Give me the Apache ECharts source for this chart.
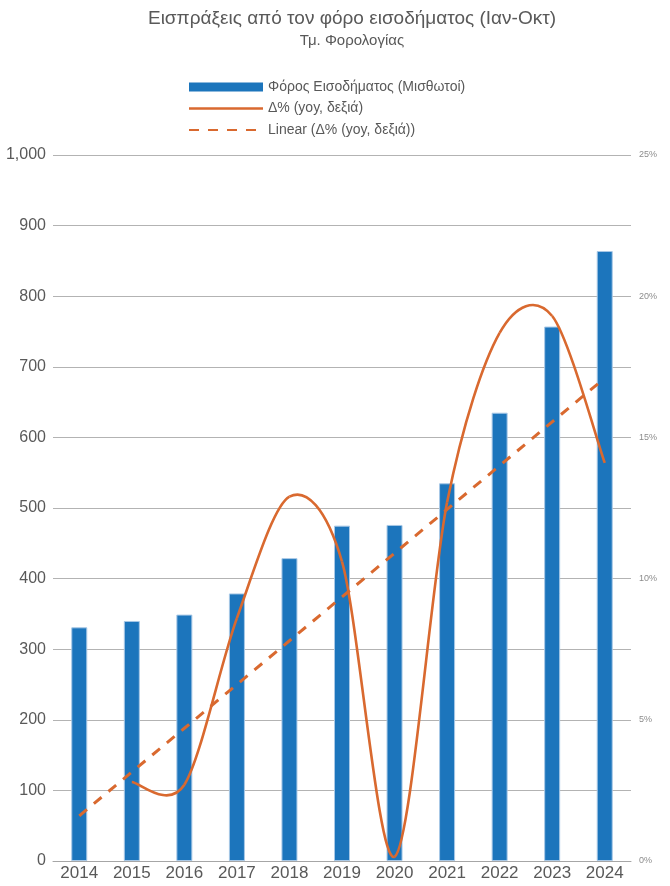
<!DOCTYPE html>
<html>
<head>
<meta charset="utf-8">
<script src="https://cdn.jsdelivr.net/npm/echarts@6/dist/echarts.min.js"></script>
<style>
  html, body { margin: 0; padding: 0; background: #fff; }
  #chart { width: 670px; height: 886px; }
</style>
</head>
<body>
<div id="chart"></div>
<script>
// έτη και τιμές, διαβασμένα από το γράφημα
let years = ['2014', '2015', '2016', '2017', '2018', '2019', '2020', '2021', '2022', '2023', '2024']
let incomeTax = [331, 340, 349, 379, 429, 475, 476, 535, 635, 757, 864]
let yoyPct = [null, 2.8, 2.7, 8.6, 12.9, 10.6, 0.15, 12.7, 18.7, 19.3, 14.1]
let yoyTrend = [1.6, 3.15, 4.7, 6.25, 7.8, 9.35, 10.9, 12.45, 14.0, 15.55, 17.1]

let seriesNames = ['Φόρος Εισοδήματος (Μισθωτοί)', 'Δ% (yoy, δεξιά)', 'Linear (Δ% (yoy, δεξιά))']

let textColor = '#595959'
let gridColor = '#b3b3b3'
let orange = '#d9692f'
let font = 'Liberation Sans'

let myChart = echarts.init(document.getElementById('chart'), null, {renderer: 'canvas'})

// ομαλή καμπύλη τύπου Excel (catmull-rom) πάνω στους άξονες του echarts
function renderSmoothSegment(params, api) {
  let i = params.dataIndex
  if (i < 1 || yoyPct[i - 1] === null || yoyPct[i] === null) {
    return
  }
  let pt = function (k) {
    return api.coord([k, yoyPct[k]])
  }
  let p1 = pt(i - 1)
  let p2 = pt(i)
  let p0 = (i - 2 >= 0 && yoyPct[i - 2] !== null) ? pt(i - 2) : p1
  let p3 = (i + 1 < yoyPct.length && yoyPct[i + 1] !== null) ? pt(i + 1) : p2
  let t = 6.5
  return {
    type: 'bezierCurve',
    shape: {
      x1: p1[0], y1: p1[1],
      x2: p2[0], y2: p2[1],
      cpx1: p1[0] + (p2[0] - p0[0]) / t,
      cpy1: p1[1] + (p2[1] - p0[1]) / t,
      cpx2: p2[0] - (p3[0] - p1[0]) / t,
      cpy2: p2[1] - (p3[1] - p1[1]) / t
    },
    style: {stroke: orange, lineWidth: 2.6, fill: null}
  }
}

let option = {
  animation: false,
  textStyle: {fontFamily: font},
  title: {
    text: 'Εισπράξεις από τον φόρο εισοδήματος (Ιαν-Οκτ)',
    subtext: 'Τμ. Φορολογίας',
    left: 347,
    textAlign: 'center',
    top: 4,
    itemGap: 5,
    textStyle: {fontSize: 19, fontWeight: 'normal', color: textColor, fontFamily: font},
    subtextStyle: {fontSize: 15, color: textColor, fontFamily: font}
  },
  legend: {
    orient: 'vertical',
    left: 183,
    top: 75,
    itemWidth: 74,
    itemHeight: 9,
    itemGap: 7.5,
    textStyle: {fontSize: 14, color: textColor, fontFamily: font},
    data: [
      {name: seriesNames[0], icon: 'rect', itemStyle: {borderWidth: 0}},
      {name: seriesNames[1], icon: 'path://M0,0M0,9M0,3.2H74V5.8H0Z', itemStyle: {color: orange}},
      {name: seriesNames[2], itemStyle: {opacity: 0}}
    ]
  },
  grid: {left: 53, right: 39, top: 155, bottom: 25, containLabel: false},
  xAxis: {
    type: 'category',
    data: years,
    axisTick: {show: false},
    axisLine: {lineStyle: {color: '#a6a6a6', width: 1}},
    axisLabel: {fontSize: 17, color: textColor, margin: 4, fontFamily: font}
  },
  yAxis: [
    {
      type: 'value',
      min: 0,
      max: 1000,
      interval: 100,
      axisLine: {show: false},
      axisTick: {show: false},
      splitLine: {lineStyle: {color: gridColor, width: 1}},
      axisLabel: {
        fontSize: 16,
        color: textColor,
        margin: 7,
        fontFamily: font,
        formatter: function (v) {
          return v.toLocaleString('en-US')
        }
      }
    },
    {
      type: 'value',
      min: 0,
      max: 25,
      interval: 5,
      axisLine: {show: false},
      axisTick: {show: false},
      splitLine: {show: false},
      axisLabel: {fontSize: 9, color: '#8c8c8c', margin: 8, formatter: '{value}%', fontFamily: font}
    }
  ],
  series: [
    {
      name: seriesNames[0],
      type: 'bar',
      data: incomeTax,
      barWidth: 16,
      itemStyle: {color: '#1c75bc', borderColor: '#a8c8e6', borderWidth: 1}
    },
    {
      name: seriesNames[1],
      type: 'custom',
      yAxisIndex: 1,
      data: years.map(function (y, i) {
        return [i, yoyPct[i] === null ? 0 : yoyPct[i]]
      }),
      encode: {x: 0, y: 1},
      itemStyle: {color: orange},
      clip: false,
      z: 3,
      renderItem: renderSmoothSegment
    },
    {
      name: seriesNames[2],
      type: 'line',
      yAxisIndex: 1,
      data: yoyTrend,
      symbol: 'none',
      z: 2,
      lineStyle: {color: orange, width: 3, type: [10, 9]},
      itemStyle: {color: orange}
    }
  ]
}

myChart.setOption(option)
</script>
</body>
</html>
